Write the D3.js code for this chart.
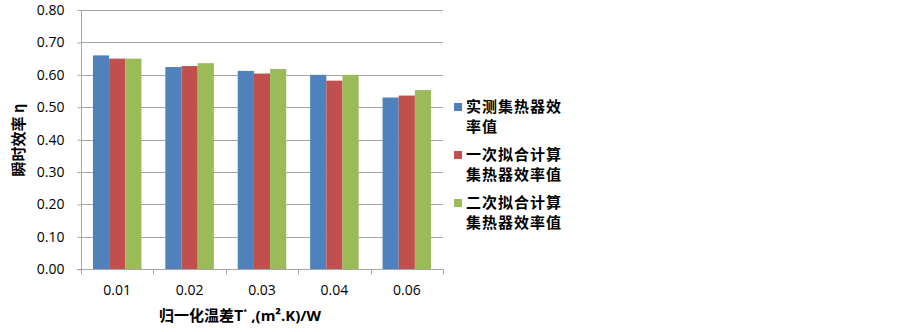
<!DOCTYPE html>
<html>
<head>
<meta charset="utf-8">
<script src="https://cdn.jsdelivr.net/npm/d3@7"></script>
<style>
  body { margin: 0; background: #fff; }
  svg { display: block; }
</style>
</head>
<body>
<svg id="chart" width="903" height="332"></svg>
<script>
var categories = ["0.01", "0.02", "0.03", "0.04", "0.06"];
var seriesNames = [["实测集热器效", "率值"], ["一次拟合计算", "集热器效率值"], ["二次拟合计算", "集热器效率值"]];
var measured = [0.660, 0.624, 0.612, 0.600, 0.530];
var linearFit = [0.650, 0.627, 0.604, 0.582, 0.536];
var quadFit = [0.650, 0.636, 0.618, 0.600, 0.553];
var yTicks = [0, 0.1, 0.2, 0.3, 0.4, 0.5, 0.6, 0.7, 0.8];
var colors = ["#4F81BD", "#C0504D", "#9BBB59"];

var svg = d3.select("#chart");
var plotL = 81, plotR = 443, plotT = 10, plotB = 269.3;
var series = [measured, linearFit, quadFit];

var x = d3.scaleBand().domain(categories).range([plotL, plotR]).paddingInner(0.33).paddingOuter(0.165);
var xs = d3.scaleBand().domain([0, 1, 2]).range([0, x.bandwidth()]);
var y = d3.scaleLinear().domain([0, 0.8]).range([plotB, plotT]);

// gridlines
svg.append("g").selectAll("line").data(yTicks.slice(1)).enter().append("line")
    .attr("x1", plotL).attr("x2", plotR)
    .attr("y1", function(d) { return Math.round(y(d)) + 0.5; })
    .attr("y2", function(d) { return Math.round(y(d)) + 0.5; })
    .attr("stroke", "#A6A6A6").attr("stroke-width", 1);

// bars
series.forEach(function(vals, s) {
    svg.append("g").selectAll("rect").data(vals).enter().append("rect")
        .attr("x", function(d, i) { return x(categories[i]) + xs(s); })
        .attr("width", xs.bandwidth())
        .attr("y", function(d) { return y(d); })
        .attr("height", function(d) { return y(0) - y(d); })
        .attr("fill", colors[s]);
});

// y axis
var yAxis = svg.append("g").attr("transform", "translate(" + (plotL + 0.5) + ",0)")
    .call(d3.axisLeft(y).tickValues(yTicks).tickFormat(d3.format(".2f")).tickSize(4).tickPadding(13));
yAxis.select(".domain").attr("stroke", "#A6A6A6").attr("d", "M0," + plotT + "V" + plotB);
yAxis.selectAll(".tick line").attr("stroke", "#A6A6A6");
yAxis.selectAll("text").attr("font-family", "Open Sans, Liberation Sans, sans-serif").attr("font-size", 14).attr("fill", "#000");

// x axis
var xAxis = svg.append("g").attr("transform", "translate(0," + (Math.round(plotB) + 0.5) + ")")
    .call(d3.axisBottom(x).tickSize(0).tickPadding(16));
xAxis.select(".domain").attr("stroke", "#A6A6A6").attr("d", "M" + (plotL - 4) + ",0H" + plotR);
xAxis.selectAll("text").attr("font-family", "Open Sans, Liberation Sans, sans-serif").attr("font-size", 14).attr("fill", "#000");
var edges = categories.map(function(c) { return x(c) - x.step() * x.paddingInner() / 2; }).concat([plotR]);
xAxis.append("g").selectAll("line").data(edges).enter().append("line")
    .attr("x1", function(d) { return Math.round(d) + 0.5; })
    .attr("x2", function(d) { return Math.round(d) + 0.5; })
    .attr("y1", 0).attr("y2", 5).attr("stroke", "#A6A6A6");

// axis titles
svg.append("text")
    .attr("transform", "translate(24,140) rotate(-90)")
    .attr("text-anchor", "middle")
    .attr("font-family", "Noto Sans CJK SC, sans-serif").attr("font-weight", "bold").attr("font-size", 15)
    .text("瞬时效率 η");

var xt = svg.append("text")
    .attr("x", 240).attr("y", 321)
    .attr("text-anchor", "middle")
    .attr("font-family", "Noto Sans CJK SC, sans-serif").attr("font-weight", "bold").attr("font-size", 15);
xt.append("tspan").text("归一化温差T");
xt.append("tspan").attr("font-size", 8).attr("dy", -6).text("*");
xt.append("tspan").attr("dy", 6).attr("font-family", "Open Sans, Liberation Sans, sans-serif").text(" ,(m²");
xt.append("tspan").attr("font-family", "Open Sans, Liberation Sans, sans-serif").text(".K)/W");

// legend
var lg = svg.append("g").selectAll("g").data(seriesNames).enter().append("g")
    .attr("transform", function(d, i) { return "translate(454," + (107 + i * 48) + ")"; });
lg.append("rect").attr("x", 0).attr("y", -4).attr("width", 8).attr("height", 8)
    .attr("fill", function(d, i) { return colors[i]; });
lg.selectAll("text").data(function(d) { return d; }).enter().append("text")
    .attr("x", 12).attr("y", function(d, j) { return j * 20; })
    .attr("dy", "0.35em")
    .attr("font-family", "Noto Sans CJK SC, sans-serif").attr("font-weight", "bold").attr("font-size", 15)
    .attr("letter-spacing", 1)
    .text(function(d) { return d; });
</script>
</body>
</html>
